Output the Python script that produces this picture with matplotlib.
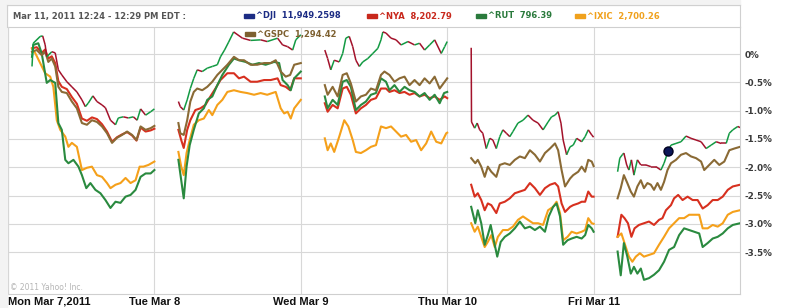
import numpy as np
import matplotlib
matplotlib.use('Agg')
import matplotlib.pyplot as plt
from matplotlib.collections import LineCollection
from matplotlib.patches import Rectangle
from matplotlib.lines import Line2D

# day labels and the % change of each index
# t = minutes after the 9:30 open, v = % change, one list per day (Mon..Fri)
days = ['Mon Mar 7,2011', 'Tue Mar 8', 'Wed Mar 9', 'Thu Mar 10', 'Fri Mar 11']
yticks = [0, -0.5, -1.0, -1.5, -2.0, -2.5, -3.0, -3.5]
ylabels = ['0%', '-0.5%', '-1.0%', '-1.5%', '-2.0%', '-2.5%', '-3.0%', '-3.5%']

dji_t = [
    [0, 4, 26, 34, 42, 47, 63, 74, 84, 95, 111, 127, 143, 159, 170, 179, 194, 207, 223, 234, 250, 266, 275, 291, 307, 323, 335, 346, 362, 378, 390],
    [0, 6, 17, 28, 38, 49, 60, 76, 92, 108, 124, 134, 147, 160, 176, 204, 230, 262, 283, 316, 332, 348, 364, 374, 390],
    [0, 9, 19, 30, 46, 57, 67, 78, 89, 99, 110, 121, 137, 153, 169, 179, 185, 195, 211, 227, 243, 265, 286, 302, 318, 334, 350, 371, 382, 390],
    [0, 1, 11, 19, 27, 37, 48, 59, 69, 80, 91, 101, 112, 123, 133, 149, 165, 181, 197, 213, 229, 245, 256, 267, 277, 286, 293, 304, 315, 325, 336, 352, 363, 373, 384, 390],
    [0, 7, 15, 20, 29, 36, 44, 52, 63, 74, 90, 106, 122, 138, 148, 159, 170, 186, 202, 218, 234, 250, 266, 282, 298, 314, 330, 346, 356, 367, 383, 390],
]
dji_v = [
    [-0.22, 0.19, 0.31, 0.32, 0.16, -0.05, 0.04, 0.02, -0.28, -0.37, -0.49, -0.58, -0.67, -0.81, -0.93, -0.87, -0.74, -0.84, -0.90, -0.95, -1.17, -1.25, -1.13, -1.11, -1.13, -1.11, -1.17, -0.97, -1.08, -1.02, -0.97],
    [-0.84, -0.93, -0.99, -0.81, -0.61, -0.43, -0.28, -0.31, -0.25, -0.22, -0.19, -0.05, 0.07, 0.21, 0.39, 0.28, 0.24, 0.25, 0.22, 0.28, 0.16, 0.13, 0.07, 0.25, 0.34],
    [0.07, -0.08, -0.28, -0.11, -0.14, 0.01, 0.28, 0.31, 0.13, -0.11, -0.22, -0.14, -0.08, 0.01, 0.10, 0.25, 0.39, 0.37, 0.28, 0.25, 0.16, 0.22, 0.16, 0.19, 0.07, 0.16, 0.25, 0.01, 0.13, 0.22],
    [0.11, -1.20, -1.31, -1.22, -1.34, -1.40, -1.67, -1.49, -1.52, -1.67, -1.46, -1.34, -1.40, -1.46, -1.37, -1.22, -1.17, -1.08, -1.17, -1.22, -1.34, -1.20, -1.11, -1.08, -1.02, -1.22, -1.52, -1.78, -1.64, -1.61, -1.49, -1.55, -1.46, -1.34, -1.43, -1.47],
    [-2.08, -1.84, -1.78, -1.75, -1.96, -2.05, -1.87, -2.14, -1.87, -1.96, -1.96, -1.99, -1.99, -2.05, -1.93, -1.75, -1.61, -1.58, -1.55, -1.45, -1.49, -1.52, -1.55, -1.67, -1.61, -1.55, -1.58, -1.58, -1.40, -1.34, -1.28, -1.30],
]

gspc_t = [
    [0, 15, 31, 42, 52, 63, 74, 84, 95, 111, 127, 143, 159, 175, 191, 207, 223, 239, 255, 271, 287, 303, 319, 333, 346, 362, 378, 390],
    [0, 6, 17, 28, 38, 49, 60, 76, 92, 108, 124, 140, 156, 177, 193, 209, 230, 251, 273, 294, 310, 326, 342, 356, 369, 390],
    [0, 9, 25, 41, 57, 70, 83, 99, 115, 131, 147, 163, 179, 190, 206, 222, 238, 254, 270, 286, 302, 318, 334, 350, 366, 382, 390],
    [0, 13, 21, 32, 43, 53, 64, 80, 91, 107, 123, 139, 155, 171, 187, 203, 219, 235, 251, 267, 277, 288, 299, 315, 325, 341, 352, 363, 373, 384, 390],
    [0, 10, 20, 31, 42, 52, 63, 74, 84, 95, 106, 116, 127, 138, 148, 159, 170, 186, 202, 218, 234, 250, 266, 276, 292, 308, 324, 340, 356, 372, 390],
]
gspc_v = [
    [0.04, 0.07, -0.02, 0.04, -0.14, -0.08, -0.22, -0.58, -0.67, -0.69, -0.84, -0.96, -1.22, -1.25, -1.17, -1.20, -1.28, -1.40, -1.57, -1.48, -1.43, -1.37, -1.43, -1.52, -1.28, -1.34, -1.31, -1.27],
    [-1.22, -1.40, -1.43, -1.17, -0.84, -0.67, -0.61, -0.64, -0.58, -0.49, -0.37, -0.28, -0.19, -0.05, -0.11, -0.11, -0.19, -0.19, -0.16, -0.16, -0.11, -0.31, -0.40, -0.37, -0.19, -0.16],
    [-0.55, -0.72, -0.58, -0.75, -0.37, -0.34, -0.52, -0.84, -0.75, -0.72, -0.61, -0.64, -0.37, -0.31, -0.37, -0.49, -0.43, -0.40, -0.55, -0.46, -0.55, -0.43, -0.52, -0.40, -0.61, -0.49, -0.43],
    [-1.84, -1.93, -1.87, -1.99, -2.17, -1.99, -2.08, -2.17, -1.96, -1.93, -1.96, -1.87, -1.81, -1.84, -1.70, -1.78, -1.90, -1.75, -1.67, -1.58, -1.70, -2.05, -2.34, -2.20, -2.14, -2.08, -1.99, -2.08, -1.87, -1.90, -1.98],
    [-2.55, -2.37, -2.14, -2.28, -2.43, -2.52, -2.34, -2.23, -2.37, -2.28, -2.31, -2.40, -2.28, -2.40, -2.26, -2.05, -1.93, -1.87, -1.78, -1.75, -1.81, -1.84, -1.90, -2.05, -1.96, -1.87, -1.96, -1.90, -1.70, -1.67, -1.64],
]

nya_t = [
    [0, 15, 31, 42, 52, 63, 74, 84, 95, 111, 127, 143, 159, 175, 191, 207, 223, 239, 255, 271, 287, 303, 319, 333, 346, 362, 378, 390],
    [0, 9, 17, 28, 38, 54, 70, 86, 102, 118, 134, 156, 177, 193, 209, 230, 251, 273, 294, 316, 326, 342, 356, 369, 390],
    [0, 9, 25, 41, 57, 70, 83, 99, 115, 131, 147, 163, 179, 195, 206, 222, 238, 254, 270, 286, 302, 318, 334, 350, 366, 382, 390],
    [0, 11, 21, 32, 43, 53, 64, 80, 91, 107, 123, 139, 155, 171, 187, 203, 219, 235, 251, 267, 277, 288, 299, 315, 325, 341, 352, 363, 373, 384, 390],
    [0, 12, 22, 33, 44, 54, 68, 84, 100, 116, 132, 143, 154, 170, 180, 193, 207, 223, 239, 255, 271, 287, 303, 319, 335, 351, 367, 390],
]
nya_v = [
    [0.10, 0.12, 0.02, 0.08, -0.08, -0.04, -0.16, -0.48, -0.58, -0.62, -0.76, -0.88, -1.14, -1.18, -1.12, -1.15, -1.24, -1.37, -1.55, -1.47, -1.42, -1.38, -1.44, -1.53, -1.30, -1.37, -1.35, -1.32],
    [-1.34, -1.52, -1.66, -1.34, -1.17, -0.99, -0.96, -0.90, -0.75, -0.61, -0.46, -0.34, -0.34, -0.43, -0.40, -0.49, -0.49, -0.46, -0.46, -0.43, -0.55, -0.58, -0.64, -0.43, -0.43],
    [-0.87, -1.02, -0.90, -0.96, -0.61, -0.58, -0.72, -1.05, -0.96, -0.90, -0.81, -0.78, -0.61, -0.61, -0.67, -0.64, -0.69, -0.67, -0.72, -0.69, -0.75, -0.72, -0.78, -0.75, -0.81, -0.75, -0.78],
    [-2.31, -2.52, -2.46, -2.58, -2.76, -2.64, -2.67, -2.81, -2.64, -2.61, -2.55, -2.46, -2.43, -2.40, -2.28, -2.37, -2.49, -2.37, -2.31, -2.28, -2.34, -2.64, -2.79, -2.70, -2.67, -2.64, -2.61, -2.61, -2.43, -2.52, -2.52],
    [-3.23, -2.84, -2.90, -2.99, -3.23, -3.08, -3.02, -2.99, -2.96, -3.02, -2.93, -2.90, -2.76, -2.67, -2.55, -2.49, -2.58, -2.52, -2.58, -2.58, -2.73, -2.67, -2.58, -2.58, -2.52, -2.40, -2.34, -2.31],
]

rut_t = [
    [0, 4, 20, 31, 47, 58, 74, 84, 95, 106, 116, 132, 148, 159, 173, 186, 202, 218, 234, 250, 266, 282, 298, 314, 330, 346, 362, 378, 390],
    [0, 9, 17, 26, 36, 49, 65, 81, 92, 108, 124, 140, 161, 177, 193, 214, 236, 257, 278, 305, 321, 332, 348, 358, 369, 390],
    [0, 9, 25, 41, 57, 70, 83, 99, 115, 131, 147, 163, 179, 195, 206, 222, 238, 254, 270, 286, 302, 318, 334, 350, 366, 380, 390],
    [0, 13, 21, 32, 43, 53, 62, 73, 83, 94, 107, 123, 139, 155, 171, 187, 203, 219, 235, 247, 261, 272, 283, 293, 307, 320, 336, 352, 363, 373, 384, 390],
    [0, 10, 20, 31, 42, 52, 63, 74, 84, 100, 116, 132, 148, 164, 180, 196, 212, 228, 244, 260, 271, 287, 303, 319, 335, 351, 367, 390],
]
rut_v = [
    [-0.05, 0.16, 0.19, 0.01, -0.51, -0.46, -0.51, -1.22, -1.34, -1.87, -1.93, -1.87, -1.99, -2.14, -2.37, -2.28, -2.40, -2.46, -2.58, -2.72, -2.61, -2.63, -2.52, -2.49, -2.40, -2.17, -2.11, -2.11, -2.05],
    [-1.87, -2.23, -2.55, -1.99, -1.61, -1.34, -1.05, -0.96, -0.81, -0.75, -0.55, -0.37, -0.19, -0.08, -0.11, -0.14, -0.19, -0.16, -0.19, -0.14, -0.16, -0.46, -0.55, -0.64, -0.43, -0.31],
    [-0.75, -0.96, -0.81, -0.90, -0.49, -0.46, -0.58, -0.99, -0.90, -0.84, -0.72, -0.69, -0.43, -0.49, -0.64, -0.55, -0.67, -0.58, -0.64, -0.67, -0.75, -0.69, -0.81, -0.72, -0.87, -0.69, -0.67],
    [-2.70, -2.99, -2.76, -2.99, -3.37, -3.20, -3.02, -3.32, -3.58, -3.32, -3.23, -3.17, -3.08, -2.96, -3.08, -3.05, -3.11, -3.05, -3.14, -2.87, -2.70, -2.64, -2.87, -3.37, -3.29, -3.26, -3.23, -3.26, -3.20, -3.02, -3.08, -3.14],
    [-3.49, -3.91, -3.34, -3.58, -3.88, -3.76, -3.88, -3.79, -3.99, -3.96, -3.90, -3.82, -3.67, -3.46, -3.41, -3.20, -3.08, -3.11, -3.14, -3.17, -3.41, -3.34, -3.26, -3.23, -3.17, -3.08, -3.02, -2.99],
]

ixic_t = [
    [0, 10, 26, 42, 58, 68, 79, 90, 106, 116, 127, 143, 159, 175, 191, 207, 223, 239, 250, 266, 282, 298, 314, 330, 343, 355, 371, 390],
    [0, 9, 17, 26, 36, 49, 65, 81, 97, 108, 124, 140, 156, 177, 198, 219, 241, 262, 283, 310, 326, 337, 348, 358, 369, 390],
    [0, 9, 19, 30, 46, 62, 75, 89, 99, 115, 131, 147, 163, 179, 195, 211, 227, 243, 259, 275, 291, 307, 323, 339, 355, 371, 387, 390],
    [0, 11, 21, 32, 43, 53, 64, 75, 85, 101, 117, 133, 149, 165, 181, 197, 213, 229, 245, 261, 272, 283, 293, 307, 320, 336, 352, 363, 373, 384, 390],
    [0, 12, 22, 36, 47, 58, 71, 84, 100, 116, 132, 148, 164, 180, 196, 212, 228, 244, 260, 271, 287, 303, 319, 335, 351, 367, 390],
]
ixic_v = [
    [0.10, 0.02, -0.16, -0.34, -0.40, -0.58, -1.17, -1.34, -1.46, -1.64, -1.57, -1.64, -2.05, -2.01, -1.99, -2.14, -2.17, -2.28, -2.37, -2.31, -2.28, -2.19, -2.28, -2.23, -1.99, -1.99, -1.96, -1.90],
    [-1.73, -1.99, -2.14, -1.75, -1.52, -1.25, -1.17, -1.14, -0.99, -1.08, -0.90, -0.81, -0.67, -0.64, -0.67, -0.69, -0.72, -0.69, -0.72, -0.67, -0.96, -1.05, -1.02, -1.14, -0.96, -0.81],
    [-1.49, -1.70, -1.58, -1.73, -1.46, -1.17, -1.28, -1.52, -1.73, -1.75, -1.70, -1.64, -1.61, -1.28, -1.31, -1.28, -1.37, -1.46, -1.43, -1.55, -1.52, -1.70, -1.58, -1.37, -1.55, -1.58, -1.40, -1.39],
    [-2.99, -3.14, -3.05, -3.23, -3.41, -3.32, -3.20, -3.41, -3.23, -3.11, -3.11, -3.05, -2.93, -2.87, -2.93, -2.99, -2.99, -3.02, -2.76, -2.70, -2.61, -2.81, -3.29, -3.23, -3.14, -3.17, -3.14, -3.11, -2.90, -2.99, -3.00],
    [-3.23, -3.17, -3.34, -3.58, -3.67, -3.58, -3.52, -3.58, -3.55, -3.52, -3.37, -3.23, -3.08, -2.99, -2.90, -2.90, -2.84, -2.84, -2.84, -3.08, -3.08, -3.02, -3.05, -2.99, -2.84, -2.79, -2.76],
]

# current-quote marker on the DJI line (Fri, minutes after open)
dot_day, dot_t = 4, 159

col_up, col_down = '#139a43', '#a3122b'
col_nya, col_rut, col_ixic, col_gspc = '#d7301f', '#2a8a3f', '#f5a01a', '#8a6a35'
col_dji = '#1c2c84'

W, H = 788, 308
fig = plt.figure(figsize=(W / 100, H / 100), dpi=100, facecolor='white')
ax = fig.add_axes([8 / W, 1 - 294 / H, 732 / W, 267 / H])

lead = 24 / 146.4  # empty stretch before the open in each day slot


def xpos(day, t):
    return day + lead + np.asarray(t, float) / 390.0 * (1 - lead)


for tt, vv, c, z in [(nya_t, nya_v, col_nya, 2), (ixic_t, ixic_v, col_ixic, 3),
                     (rut_t, rut_v, col_rut, 4), (gspc_t, gspc_v, col_gspc, 5)]:
    for d in range(5):
        ax.plot(xpos(d, tt[d]), vv[d], color=c, lw=1.5, zorder=z, solid_joinstyle='round')

# DJI drawn green on up ticks, red on down ticks
for d in range(5):
    x = xpos(d, dji_t[d])
    y = np.asarray(dji_v[d])
    segs = np.stack([np.column_stack([x[:-1], y[:-1]]), np.column_stack([x[1:], y[1:]])], axis=1)
    cols = [col_up if b > a else col_down for a, b in zip(y[:-1], y[1:])]
    ax.add_collection(LineCollection(segs, colors=cols, linewidths=1.1, zorder=6))

ax.plot(xpos(dot_day, dot_t), np.interp(dot_t, dji_t[dot_day], dji_v[dot_day]) + 0.03,
        'o', ms=6.5, color='#0c1757', mec='#000020', zorder=7)

ax.set_xlim(0, 5)
ax.set_ylim(-4.24, 0.477)
ax.set_yticks(yticks)
ax.set_yticklabels(ylabels)
ax.yaxis.tick_right()
ax.tick_params(axis='y', length=0, pad=3, labelsize=6.3, labelcolor='#3a3a3a')
for lb in ax.get_yticklabels():
    lb.set_fontweight('bold')
ax.set_xticks(range(5))
ax.set_xticklabels(days, fontsize=8, fontweight='bold',
                   family=['Liberation Sans Narrow', 'Liberation Sans', 'DejaVu Sans'])
ax.tick_params(axis='x', length=0, pad=2, labelcolor='#111111')
ax.get_xticklabels()[0].set_ha('left')
ax.grid(True, color='#d8d8d8', lw=0.8)
ax.set_axisbelow(True)
for s in ax.spines.values():
    s.set_color('#cfcfcf')
    s.set_linewidth(0.8)

# header strip, legend and frame
fig.patches.append(Rectangle((0, 0), 7 / W, 1, transform=fig.transFigure, color='#f3f3f3', zorder=0))
fig.patches.append(Rectangle((0, 1 - 5 / H), 740 / W, 5 / H, transform=fig.transFigure, color='#f3f3f3', zorder=0))
fig.lines.append(Line2D([7 / W, 740 / W], [1 - 5 / H, 1 - 5 / H], transform=fig.transFigure, color='#d0d0d0', lw=0.8))
fig.lines.append(Line2D([7 / W, 7 / W], [1 - 5 / H, 1 - 27 / H], transform=fig.transFigure, color='#d0d0d0', lw=0.8))
fig.lines.append(Line2D([740 / W, 740 / W], [1 - 5 / H, 1 - 27 / H], transform=fig.transFigure, color='#d0d0d0', lw=0.8))

hdr = dict(fontsize=6, fontweight='bold', va='center', family='DejaVu Sans')
fig.text(13 / W, 1 - 16 / H, 'Mar 11, 2011 12:24 - 12:29 PM EDT :', color='#555555', **hdr)
legend_items = [('^DJI  11,949.2598', col_dji, 244, 16), ('^NYA  8,202.79', '#c8281c', 367, 16),
                ('^RUT  796.39', '#2a7a3c', 476, 16), ('^IXIC  2,700.26', '#f0a11c', 575, 16),
                ('^GSPC  1,294.42', '#7d6030', 245, 34)]
for name, c, x0, y0 in legend_items:
    fig.patches.append(Rectangle((x0 / W, 1 - (y0 + 2) / H), 10 / W, 4 / H,
                                 transform=fig.transFigure, color=c, zorder=5))
    fig.text((x0 + 12) / W, 1 - y0 / H, name, color=c, zorder=6, **hdr)

fig.text(10 / W, 1 - 287 / H, '\u00a9 2011 Yahoo! Inc.', color='#b5b5b5', fontsize=5.5, va='center')

fig.savefig('out.png', dpi=100, facecolor='white')
